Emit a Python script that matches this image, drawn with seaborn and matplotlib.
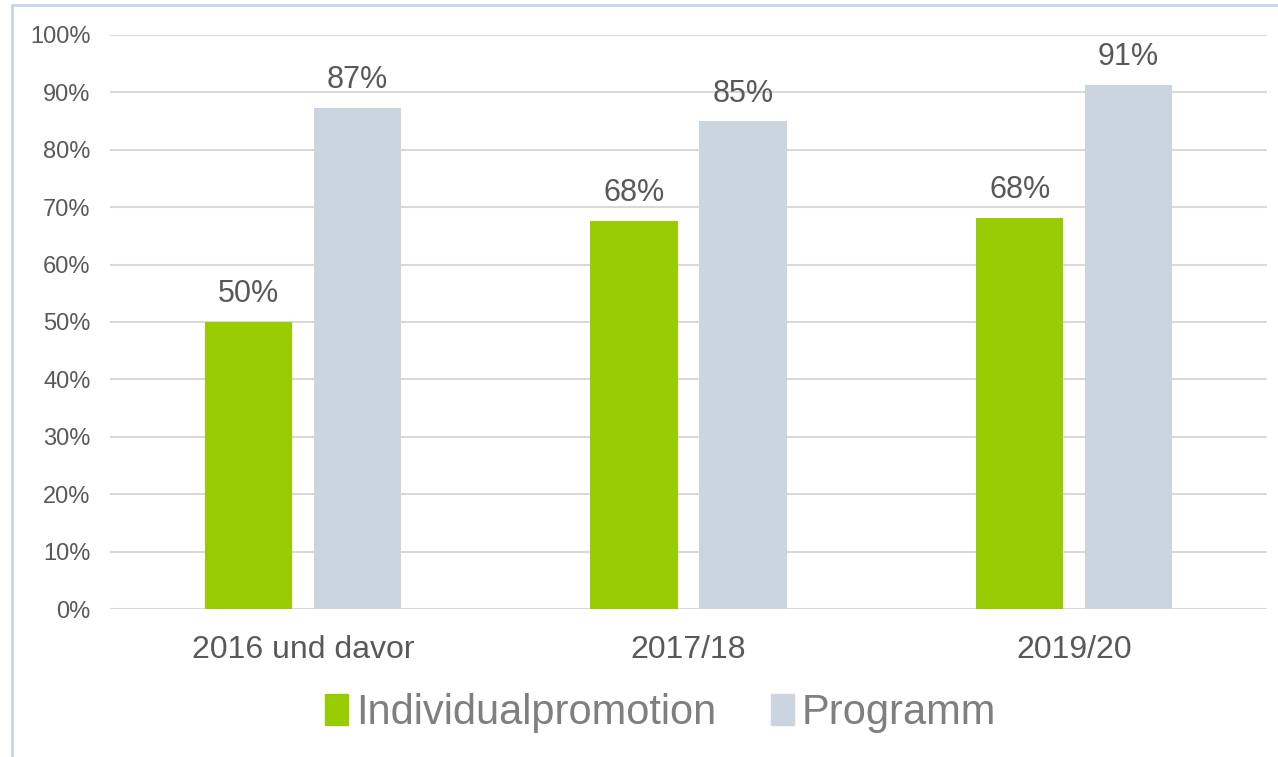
import pandas as pd
import numpy as np
import matplotlib.pyplot as plt
import seaborn as sns
from matplotlib.lines import Line2D

# Data (percent)
categories = ["2016 und davor", "2017/18", "2019/20"]
series_names = ["Individualpromotion", "Programm"]
individual = [50.0, 67.6, 68.2]
programm = [87.3, 85.0, 91.3]
y_ticks = [0, 10, 20, 30, 40, 50, 60, 70, 80, 90, 100]

df = pd.DataFrame({
    "Kategorie": categories * 2,
    "Serie": [series_names[0]] * 3 + [series_names[1]] * 3,
    "Wert": individual + programm,
})

sns.set_theme(style="white")
plt.rcParams["font.family"] = ["Liberation Sans", "DejaVu Sans"]

fig = plt.figure(figsize=(12.78, 7.57), dpi=100)
ax = fig.add_axes([0.0861, 0.1955, 0.9053, 0.7583])

palette = {series_names[0]: "#99CC00", series_names[1]: "#CBD5E0"}
sns.barplot(data=df, x="Kategorie", y="Wert", hue="Serie", order=categories,
            hue_order=series_names, palette=palette, width=0.565, gap=0.2,
            saturation=1, linewidth=0, ax=ax)

# Value labels
for cont in ax.containers:
    labels = [f"{v:.0f}%" for v in cont.datavalues]
    ax.bar_label(cont, labels=labels, padding=9, fontsize=22, color="#595959")

ax.set_ylim(0, 100)
ax.set_xlim(-0.5, 2.5)
ax.set_yticks(y_ticks)
ax.set_yticklabels([f"{t}%" for t in y_ticks])
ax.yaxis.grid(True, color="#D9D9D9", linewidth=1.5)
ax.set_axisbelow(True)
ax.tick_params(axis="y", labelsize=17, labelcolor="#595959", length=0, pad=14)
ax.tick_params(axis="x", labelsize=23, labelcolor="#595959", length=0, pad=19)
ax.set_xlabel("")
ax.set_ylabel("")
for s in ax.spines.values():
    s.set_visible(False)

# Legend below
ax.legend_.remove()
handles = [plt.Rectangle((0, 0), 1, 1, color=palette[n]) for n in series_names]
fig.legend(handles, series_names, loc="center", bbox_to_anchor=(0.517, 0.058),
           ncol=2, frameon=False, fontsize=30, labelcolor="#7F7F7F",
           handlelength=0.55, handleheight=0.75, handletextpad=0.2,
           columnspacing=1.3)

# Chart frame (left and top edges visible)
frame_col = "#CAD4E2"
fig.add_artist(Line2D([12 / 1278, 12 / 1278], [0, 1 - 5 / 757],
                      transform=fig.transFigure, color=frame_col, linewidth=2))
fig.add_artist(Line2D([12 / 1278, 1], [1 - 5 / 757, 1 - 5 / 757],
                      transform=fig.transFigure, color=frame_col, linewidth=2))

fig.savefig("out.png", dpi=100)
